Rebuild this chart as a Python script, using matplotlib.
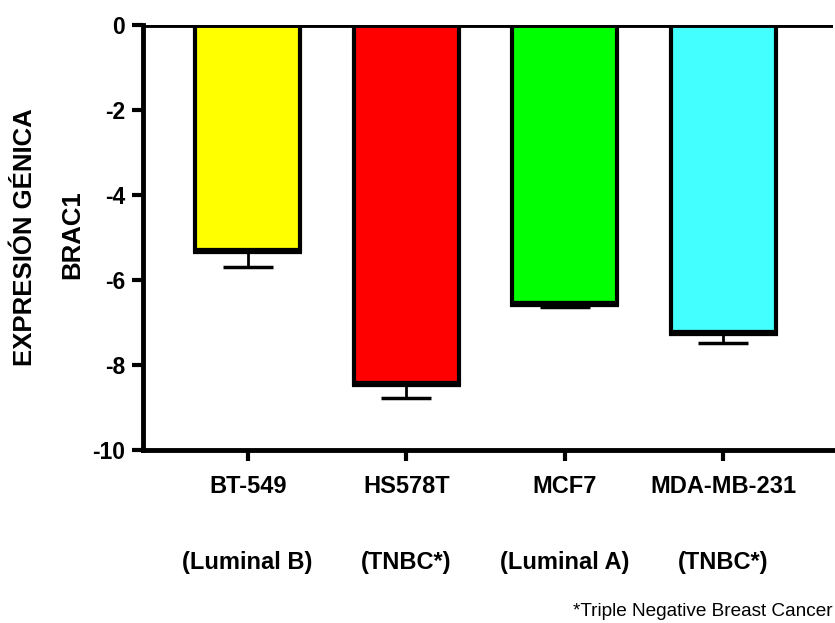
import numpy as np
import matplotlib.pyplot as plt
import matplotlib.transforms as mtransforms

plt.rcParams['font.family'] = ['Liberation Sans', 'DejaVu Sans']

# data
lineas = ['BT-549', 'HS578T', 'MCF7', 'MDA-MB-231']
subtipos = ['(Luminal B)', '(TNBC*)', '(Luminal A)', '(TNBC*)']
valores = [-5.32, -8.45, -6.56, -7.25]
errores = [0.37, 0.32, 0.07, 0.23]
colores = ['#ffff00', '#ff0000', '#00ff00', '#44ffff']

fig = plt.figure(figsize=(8.35, 6.23), dpi=100)
ax = fig.add_axes([0.1713, 0.2777, 0.826, 0.6822])

x = np.arange(len(lineas))
ax.bar(x, valores, width=0.66, color=colores, edgecolor='black', linewidth=3, zorder=2)
# thick bottom edge of each bar
for xi, v in zip(x, valores):
    ax.plot([xi - 0.345, xi + 0.345], [v, v], color='black', lw=4.5, solid_capstyle='butt', zorder=3)
ax.errorbar(x, valores, yerr=[errores, [0] * 4], fmt='none', ecolor='black',
            elinewidth=2, capsize=18, capthick=2.5, zorder=1)
ax.axhline(0, color='black', lw=3.5, zorder=4)

ax.set_xlim(-0.66, 3.69)
ax.set_ylim(-10, 0)
ax.set_yticks([0, -2, -4, -6, -8, -10])
ax.set_yticklabels(['0', '-2', '-4', '-6', '-8', '-10'])
ax.set_xticks(x)
ax.set_xticklabels(lineas)

for s in ['top', 'right']:
    ax.spines[s].set_visible(False)
for s in ['left', 'bottom']:
    ax.spines[s].set_linewidth(3.5)
ax.tick_params(axis='both', width=3, length=8)
ax.tick_params(axis='y', labelsize=16.5, pad=5)
ax.tick_params(axis='x', labelsize=17, pad=10)
for lab in ax.get_xticklabels() + ax.get_yticklabels():
    lab.set_fontweight('bold')

# subtype row under the cell line names
trans = mtransforms.blended_transform_factory(ax.transData, fig.transFigure)
for xi, s in zip(x, subtipos):
    ax.text(xi, 1 - 563 / 623, s, transform=trans, ha='center', va='center',
            fontsize=17, fontweight='bold')

# y axis title (two lines)
fig.text(0.030, 0.62, 'EXPRESIÓN GÉNICA', rotation=90, ha='center', va='center',
         fontsize=18.5, fontweight='bold')
fig.text(0.086, 0.623, 'BRAC1', rotation=90, ha='center', va='center',
         fontsize=18.5, fontweight='bold')

fig.text(0.997, 0.005, '*Triple Negative Breast Cancer', ha='right', va='bottom', fontsize=13.7)

fig.savefig('out.png', dpi=100)
